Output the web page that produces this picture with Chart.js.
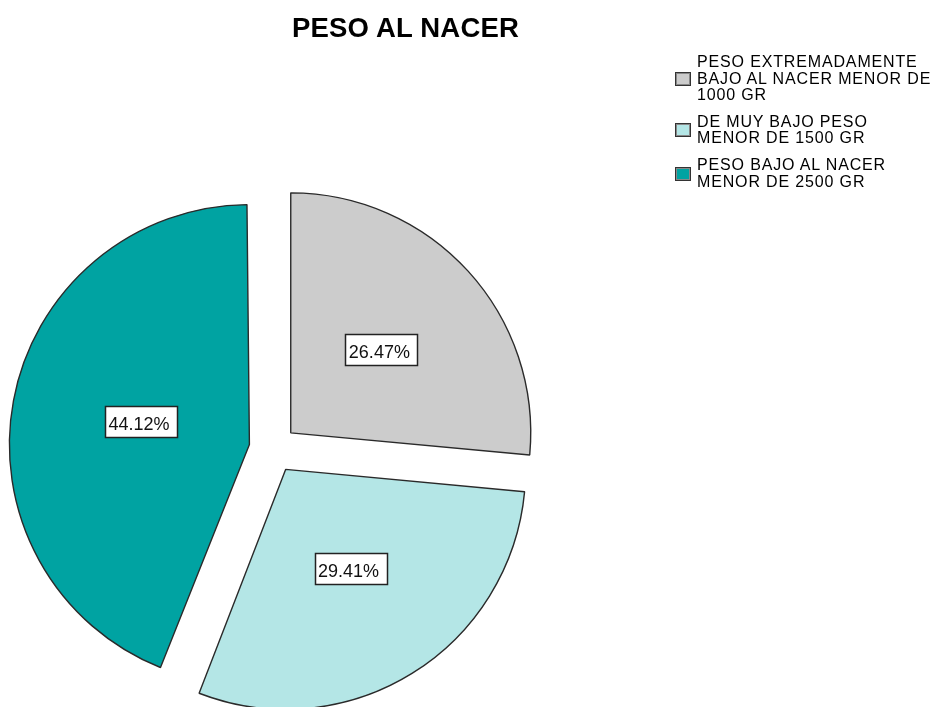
<!DOCTYPE html>
<html>
<head>
<meta charset="utf-8">
<script src="https://cdn.jsdelivr.net/npm/chart.js@4"></script>
<style>
  body { margin: 0; background: #fff; font-family: "Liberation Sans", Arial, sans-serif; }
  #wrap { position: relative; width: 939px; height: 707px; }
  #title {
    position: absolute; left: 0; top: 14px; width: 811px; text-align: center;
    font-weight: bold; font-size: 27.5px; line-height: 27px; letter-spacing: 0.2px; color: #000;
  }
  #legend { position: absolute; left: 675px; top: 54px; }
  .item { position: relative; padding-left: 22px; margin-bottom: 10px; }
  .item span { display: block; font-size: 16px; line-height: 16.6px; letter-spacing: 0.85px; color: #000; white-space: nowrap; }
  .swatch {
    position: absolute; left: 0; top: 50%; width: 14px; height: 12px; margin-top: -7px;
    border: 1px solid #333; box-shadow: inset 0 0 0 1px #888;
  }
</style>
</head>
<body>
<div id="wrap">
  <canvas id="pieChart"></canvas>
  <div id="title"></div>
  <div id="legend"></div>
</div>
<script>
const chartTitle = 'PESO AL NACER';
const categories = [
  ['PESO EXTREMADAMENTE', 'BAJO AL NACER MENOR DE', '1000 GR'],
  ['DE MUY BAJO PESO', 'MENOR DE 1500 GR'],
  ['PESO BAJO AL NACER', 'MENOR DE 2500 GR']
];
const percents = [26.47, 29.41, 44.12];
const colors = ['#cccccc', '#b4e6e6', '#00a3a2'];

document.getElementById('title').textContent = chartTitle;

const legendEl = document.getElementById('legend');
categories.forEach((lines, i) => {
  const item = document.createElement('div');
  item.className = 'item';
  const sw = document.createElement('div');
  sw.className = 'swatch';
  sw.style.background = colors[i];
  item.appendChild(sw);
  lines.forEach(line => {
    const s = document.createElement('span');
    s.textContent = line;
    item.appendChild(s);
  });
  legendEl.appendChild(item);
});

// chart.js grows a slice's radius when it is offset; undo that so all slices keep one radius
const sameRadius = {
  id: 'sameRadius',
  afterDatasetsUpdate(chart) {
    chart.getDatasetMeta(0).data.forEach(arc => {
      const fix = 1 - Math.sin(Math.min(Math.PI, arc.circumference));
      arc.outerRadius -= (arc.options.offset / 4) * fix;
    });
  }
};

// boxed percentage labels in each slice
const boxLabels = {
  id: 'boxLabels',
  afterDatasetsDraw(chart) {
    const ctx = chart.ctx;
    const meta = chart.getDatasetMeta(0);
    ctx.save();
    ctx.font = '18px "Liberation Sans", Arial, sans-serif';
    ctx.textBaseline = 'alphabetic';
    ctx.textAlign = 'left';
    meta.data.forEach((arc, i) => {
      const mid = (arc.startAngle + arc.endAngle) / 2;
      const d = arc.options.offset / 4 + arc.outerRadius / 2;
      const x = arc.x + Math.cos(mid) * d;
      const y = arc.y + Math.sin(mid) * d;
      const text = percents[i].toFixed(2) + '%';
      const w = ctx.measureText(text).width;
      const left = Math.round(x - w / 2 - 3.5) + 0.5;
      const top = Math.round(y - 6.4 - 11.7) + 0.5;
      ctx.fillStyle = '#fff';
      ctx.fillRect(left, top, Math.round(w + 10.5), 31);
      ctx.strokeStyle = '#222';
      ctx.lineWidth = 1.5;
      ctx.strokeRect(left, top, Math.round(w + 10.5), 31);
      ctx.fillStyle = '#111';
      ctx.fillText(text, x - w / 2, y + 6.4);
    });
    ctx.restore();
  }
};

new Chart(document.getElementById('pieChart'), {
  type: 'pie',
  data: {
    labels: categories.map(l => l.join(' ')),
    datasets: [{
      data: percents,
      backgroundColor: colors,
      borderColor: '#2a2a2a',
      borderWidth: 1.4,
      offset: 96,
      radius: 240,
      clip: false
    }]
  },
  options: {
    responsive: true,
    maintainAspectRatio: false,
    animation: false,
    events: [],
    layout: { padding: { left: 0, right: 393, top: 191, bottom: 0 } },
    plugins: {
      legend: { display: false },
      title: { display: false },
      tooltip: { enabled: false }
    }
  },
  plugins: [sameRadius, boxLabels]
});
</script>
</body>
</html>
